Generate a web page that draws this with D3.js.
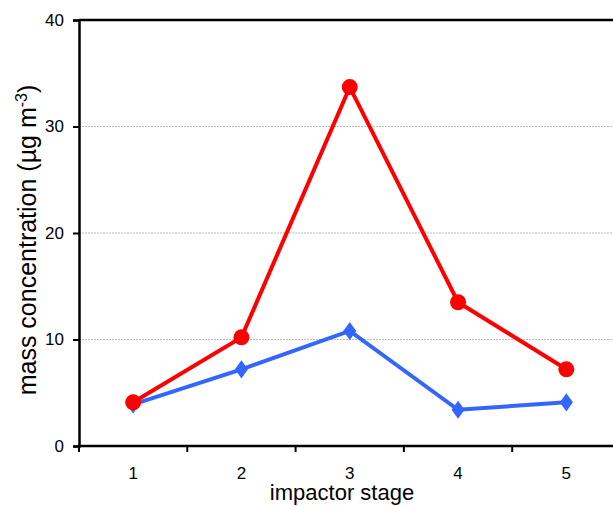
<!DOCTYPE html>
<html><head><meta charset="utf-8">
<script src="https://cdn.jsdelivr.net/npm/d3@7/dist/d3.min.js"></script>
<style>body{margin:0;background:#fff}svg{display:block}text{font-family:"Liberation Sans",Arial,sans-serif}</style>
</head><body><svg id="c" width="613" height="506"></svg>
<script>
const stages = ["1","2","3","4","5"];
const redValues = [4.1, 10.2, 33.7, 13.5, 7.2];
const blueValues = [3.9, 7.2, 10.8, 3.4, 4.1];
const yTicks = [0, 10, 20, 30, 40];

(function () {
const svg = d3.select("#c");
const mLeft = 79, mTop = 20, mBottom = 446, mRight = 620.5;
const x = d3.scaleBand().domain(stages).range([mLeft, mRight]).padding(0);
const y = d3.scaleLinear().domain([0, 40]).range([mBottom, mTop]);

// gridlines
svg.append("g").selectAll("line").data(yTicks.filter(d => d > 0 && d < 40)).join("line")
  .attr("x1", mLeft).attr("x2", 613).attr("y1", d => y(d)).attr("y2", d => y(d))
  .attr("stroke", "#aaa").attr("stroke-width", 0.8).attr("stroke-dasharray", "2,1");

// top border
svg.append("line").attr("x1", mLeft).attr("x2", 613).attr("y1", mTop).attr("y2", mTop)
  .attr("stroke", "#000").attr("stroke-width", 2.5);

// y axis
const ya = svg.append("g").attr("transform", `translate(${mLeft},0)`)
  .call(d3.axisLeft(y).tickValues(yTicks).tickSize(6).tickPadding(9));
ya.select(".domain").attr("stroke-width", 2.5);
ya.selectAll(".tick line").attr("stroke-width", 2);
ya.selectAll("text").attr("font-size", 17).attr("fill", "#000");

// x axis
const xa = svg.append("g").attr("transform", `translate(0,${mBottom})`)
  .call(d3.axisBottom(x).tickSize(0).tickPadding(21));
xa.select(".domain").attr("stroke-width", 2.5).attr("d", `M${mLeft},0H613`);
xa.selectAll("text").attr("font-size", 17).attr("fill", "#000");
svg.append("g").selectAll("line").data(stages).join("line")
  .attr("x1", d => x(d)).attr("x2", d => x(d)).attr("y1", mBottom).attr("y2", mBottom + 6)
  .attr("stroke", "#000").attr("stroke-width", 2);

const cx = d => x(d) + x.bandwidth() / 2;
const line = d3.line().x((d, i) => cx(stages[i])).y(d => y(d));

// blue series
svg.append("path").datum(blueValues).attr("d", line).attr("fill", "none")
  .attr("stroke", "#3366FF").attr("stroke-width", 4);
svg.append("g").selectAll("path").data(blueValues).join("path")
  .attr("d", d3.symbol(d3.symbolDiamond, 95))
  .attr("transform", (d, i) => `translate(${cx(stages[i])},${y(d)}) scale(1.25,1)`)
  .attr("fill", "#3366FF");

// red series
svg.append("path").datum(redValues).attr("d", line).attr("fill", "none")
  .attr("stroke", "#FF0000").attr("stroke-width", 4);
svg.append("g").selectAll("circle").data(redValues).join("circle")
  .attr("cx", (d, i) => cx(stages[i])).attr("cy", d => y(d)).attr("r", 8)
  .attr("fill", "#FF0000");

// axis titles
svg.append("text").attr("x", 342).attr("y", 500).attr("text-anchor", "middle")
  .attr("font-size", 22).text("impactor stage");
const yt = svg.append("text").attr("transform", "translate(36,240) rotate(-90)")
  .attr("text-anchor", "middle").attr("font-size", 25);
yt.append("tspan").text("mass concentration (µg m");
yt.append("tspan").attr("dy", -9).attr("font-size", 16).text("-3");
yt.append("tspan").attr("dy", 9).text(")");
})();
</script></body></html>
